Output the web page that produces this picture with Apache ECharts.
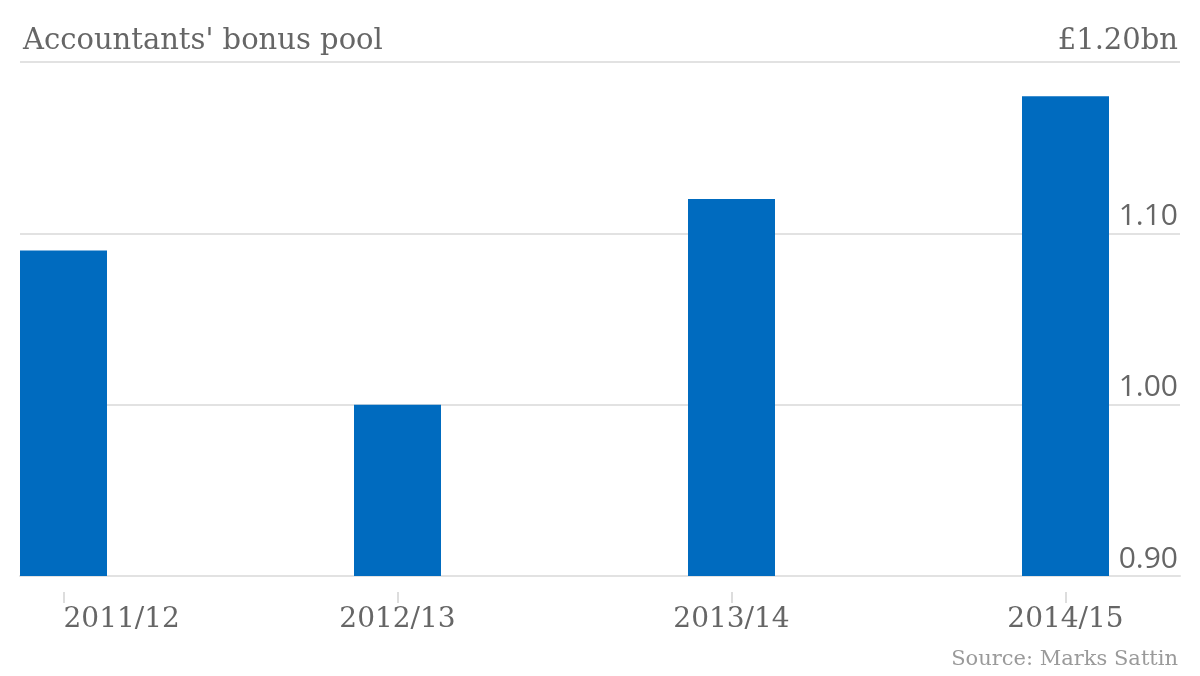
<!DOCTYPE html>
<html>
<head>
<meta charset="utf-8">
<script src="https://cdn.jsdelivr.net/npm/echarts@6/dist/echarts.min.js"></script>
<style>html,body{margin:0;padding:0;background:#fff;}#chart{width:1200px;height:676px;}</style>
</head>
<body>
<div id="chart"></div>
<script>
const categories = ['2011/12', '2012/13', '2013/14', '2014/15'];
const bonusPool = [1.09, 1.00, 1.12, 1.18];
const yTicks = [0.90, 1.00, 1.10, 1.20];
const titleText = "Accountants' bonus pool";
const unitText = '£1.20bn';
const sourceText = 'Source: Marks Sattin';

const serif = 'DejaVu Serif';
const chart = echarts.init(document.getElementById('chart'));
const yMin = yTicks[0], yMax = yTicks[yTicks.length - 1];
// plot spans 20..1180 px; category centres at 63.5 and 1065.5 px
const plotL = 20, plotR = 1180, firstC = 63.5, lastC = 1065.5;
const unit = (lastC - firstC) / (categories.length - 1);
const xMin = -(firstC - plotL) / unit;
const xMax = (categories.length - 1) + (plotR - lastC) / unit;

chart.setOption({
  animation: false,
  backgroundColor: '#ffffff',
  title: [
    { text: titleText, left: 18, top: 22, textStyle: { fontFamily: serif, fontSize: 29, fontWeight: 'normal', color: '#666666' } },
    { text: unitText, right: 17, top: 22, textStyle: { fontFamily: serif, fontSize: 29, fontWeight: 'normal', color: '#666666' } },
    { text: sourceText, right: 17, top: 644, textStyle: { fontFamily: serif, fontSize: 21, fontWeight: 'normal', color: '#9a9a9a' } }
  ],
  grid: [
    { left: plotL, right: 1200 - plotR, top: 62, bottom: 100 },
    { left: firstC, right: 1200 - lastC, top: 62, bottom: 100 }
  ],
  xAxis: [
    { gridIndex: 0, type: 'value', min: xMin, max: xMax,
      axisLine: { show: true, onZero: false, lineStyle: { color: '#e2e2e2', width: 2 } },
      axisTick: { show: false }, axisLabel: { show: false }, splitLine: { show: false } },
    { gridIndex: 1, type: 'category', data: categories, boundaryGap: false, offset: 16,
      axisLine: { show: false },
      axisTick: { show: true, length: 11, alignWithLabel: true, lineStyle: { color: '#dddddd', width: 2 } },
      axisLabel: { fontFamily: serif, fontSize: 28, color: '#666666', margin: 14, alignMinLabel: 'left', alignMaxLabel: 'center' },
      splitLine: { show: false } }
  ],
  yAxis: [
    { gridIndex: 0, type: 'value', position: 'right', min: yMin, max: yMax, interval: 0.1,
      axisLine: { show: false }, axisTick: { show: false },
      splitLine: { show: true, lineStyle: { color: '#e2e2e2', width: 2 } },
      axisLabel: { inside: true, margin: 2, verticalAlign: 'bottom', padding: [0, 0, 2, 0],
        fontFamily: 'Open Sans', fontSize: 30, color: '#666666',
        formatter: v => (Math.abs(v - yMax) < 1e-9 ? '' : v.toFixed(2)) } },
    { gridIndex: 1, type: 'value', min: yMin, max: yMax, interval: 0.1, show: false, splitLine: { show: false } }
  ],
  series: [{
    type: 'bar', xAxisIndex: 0, yAxisIndex: 0, barWidth: 87, clip: true,
    data: bonusPool.map((v, i) => [i, v]),
    itemStyle: { color: '#006bbf' }
  }]
});
</script>
</body>
</html>
